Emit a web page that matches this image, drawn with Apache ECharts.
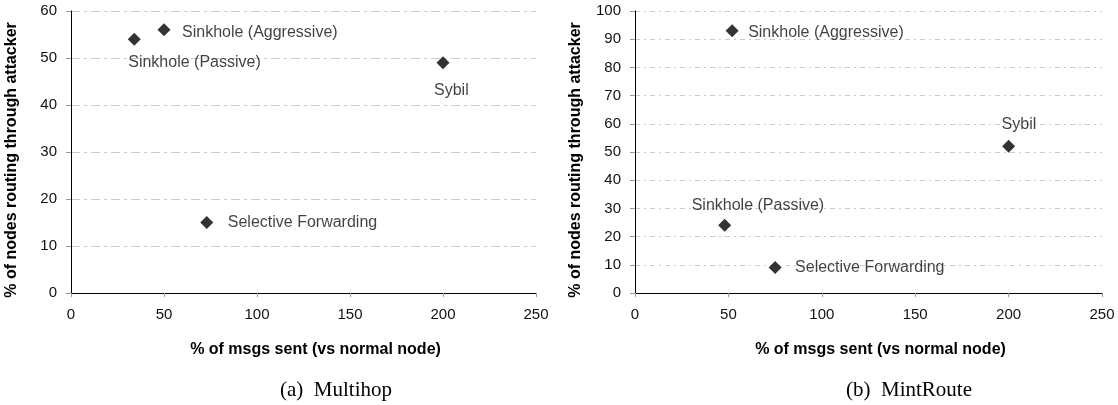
<!DOCTYPE html>
<html>
<head>
<meta charset="utf-8">
<script src="https://cdn.jsdelivr.net/npm/echarts@6/dist/echarts.min.js"></script>
<style>html,body{margin:0;padding:0;background:#fff}#c{width:1118px;height:405px}</style>
</head>
<body>
<div id="c"></div>
<script>
// ---- data ----
const attacks = ['Sinkhole (Passive)', 'Sinkhole (Aggressive)', 'Sybil', 'Selective Forwarding'];
const multihopMsgs = [34, 50, 200, 73];
const multihopNodes = [54, 56, 49, 15];
const mintMsgs = [48, 52, 200, 75];
const mintNodes = [24, 93, 52, 9];
const xTickMax = 250, xTickStep = 50;
const multihopYMax = 60, mintYMax = 100, yTickStep = 10;
const xName = '% of msgs sent (vs normal node)';
const yName = '% of nodes routing through attacker';
const captions = ['(a)  Multihop', '(b)  MintRoute'];

// ---- styling (label offsets relative to marker centre) ----
const multihopLabelOffsets = [[-6, 23], [18, 3], [-9, 28], [21, 0]];
const mintLabelOffsets = [[-33, -20], [16, 2], [-7, -22], [20, 0]];

const FONT = 'Liberation Sans, Arial, sans-serif';

function buildData(xs, ys, offs) {
  return xs.map((x, i) => ({
    value: [x, ys[i]],
    name: attacks[i],
    label: { offset: offs[i] }
  }));
}

function xAxis(gi) {
  return {
    gridIndex: gi, type: 'value', min: 0, max: xTickMax, interval: xTickStep,
    name: xName, nameLocation: 'middle', nameGap: 49,
    nameTextStyle: { fontFamily: FONT, fontSize: 16, fontWeight: 'bold', color: '#000', padding: [0, 0, 0, 24] },
    axisLine: { show: true, lineStyle: { color: '#000', width: 1 } },
    axisTick: { show: true, length: 4, lineStyle: { color: '#999' } },
    axisLabel: { fontFamily: FONT, fontSize: 15, color: '#111', margin: 14 },
    splitLine: { show: false }
  };
}
function yAxis(gi, max, dash) {
  return {
    gridIndex: gi, type: 'value', min: 0, max: max, interval: yTickStep,
    name: yName, nameLocation: 'middle', nameGap: 51,
    nameTextStyle: { fontFamily: FONT, fontSize: 16, fontWeight: 'bold', color: '#000', padding: [0, 16, 0, 0] },
    axisLine: { show: true, lineStyle: { color: '#000', width: 1 } },
    axisTick: { show: true, length: 5, lineStyle: { color: '#999' } },
    axisLabel: { fontFamily: FONT, fontSize: 15, color: '#111', margin: 14 },
    splitLine: { show: true, lineStyle: { color: '#cccccc', width: 1, type: dash } }
  };
}
function series(gi, xs, ys, offs) {
  return {
    type: 'scatter', xAxisIndex: gi, yAxisIndex: gi,
    symbol: 'diamond', symbolSize: 13,
    itemStyle: { color: '#000' },
    label: {
      show: true, position: 'inside', align: 'left', verticalAlign: 'middle',
      formatter: p => p.name,
      fontFamily: FONT, fontSize: 16, color: '#111'
    },
    emphasis: { disabled: true },
    data: buildData(xs, ys, offs)
  };
}

const chart = echarts.init(document.getElementById('c'));
chart.setOption({
  animation: false,
  backgroundColor: '#fff',
  grid: [
    { left: 71, top: 11, width: 465, height: 282 },
    { left: 635, top: 11, width: 467, height: 282 }
  ],
  xAxis: [xAxis(0), xAxis(1)],
  yAxis: [yAxis(0, multihopYMax, [9, 4, 3, 4]), yAxis(1, mintYMax, [5, 4, 2, 4])],
  series: [
    series(0, multihopMsgs, multihopNodes, multihopLabelOffsets),
    series(1, mintMsgs, mintNodes, mintLabelOffsets)
  ],
  graphic: [
    { type: 'text', left: 280, top: 380, style: { text: captions[0], font: '21px "Liberation Serif", "Times New Roman", serif', fill: '#000', align: 'center', verticalAlign: 'middle' } },
    { type: 'text', left: 846, top: 380, style: { text: captions[1], font: '21px "Liberation Serif", "Times New Roman", serif', fill: '#000', align: 'center', verticalAlign: 'middle' } }
  ]
});
</script>
</body>
</html>
